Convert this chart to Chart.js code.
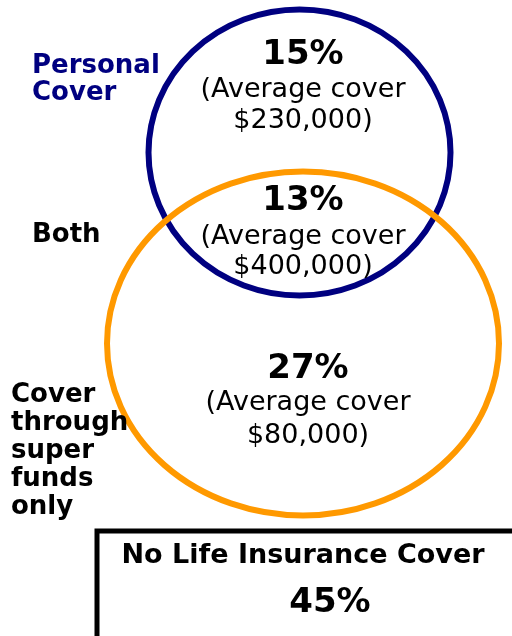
<!DOCTYPE html>
<html>
<head>
<meta charset="utf-8">
<script src="https://cdn.jsdelivr.net/npm/chart.js@4/dist/chart.umd.min.js"></script>
<style>
  html, body { margin: 0; padding: 0; background: #fff; }
  #wrap { width: 512px; height: 636px; }
</style>
</head>
<body>
<div id="wrap"><canvas id="venn" width="512" height="636"></canvas></div>
<script>
// === Data ===
const regions = ["Personal Cover", "Both", "Cover through super funds only"];
const shares = [15, 13, 27];
const avgCover = [230000, 400000, 80000];
const outsideLabel = "No Life Insurance Cover";
const outsideShare = 45;

// === Layout (in canvas units, mapped through the hidden scales) ===
const layout = {
  ellipses: [
    { cx: 299.5, cy: 152.5, rx: 151, ry: 143, color: "#000080" }, // personal
    { cx: 303, cy: 343.5, rx: 196, ry: 172, color: "#FF9900" }    // super funds, drawn on top
  ],
  values: [
    { x: 303, y: 64, lines: [97, 128] },
    { x: 303, y: 210, lines: [244, 274] },
    { x: 308, y: 378, lines: [410, 443] }
  ],
  names: [
    { x: 32, y: 73, step: 27, color: "#000080", lines: ["Personal", "Cover"] },
    { x: 32, y: 242, step: 28, color: "#000", lines: ["Both"] },
    { x: 11, y: 402, step: 28, color: "#000", lines: ["Cover", "through", "super", "funds", "only"] }
  ],
  box: { x: 97, y: 531, title: { x: 303, y: 563 }, value: { x: 330, y: 612 } }
};

const FONT = "'DejaVu Sans', Verdana, sans-serif";

function money(v) {
  return "$" + v.toLocaleString("en-US") + ")";
}

const vennPlugin = {
  id: "venn",
  afterDraw(chart) {
    const ctx = chart.ctx;
    const xs = chart.scales.x, ys = chart.scales.y;
    const px = v => xs.getPixelForValue(v);
    const py = v => ys.getPixelForValue(v);
    const sx = v => Math.abs(xs.getPixelForValue(v) - xs.getPixelForValue(0));
    const sy = v => Math.abs(ys.getPixelForValue(v) - ys.getPixelForValue(0));

    ctx.save();

    // circles
    layout.ellipses.forEach(e => {
      ctx.beginPath();
      ctx.ellipse(px(e.cx), py(e.cy), sx(e.rx), sy(e.ry), 0, 0, Math.PI * 2);
      ctx.lineWidth = 6;
      ctx.strokeStyle = e.color;
      ctx.stroke();
    });

    // no-cover box running off the page
    ctx.lineWidth = 5;
    ctx.strokeStyle = "#000";
    ctx.strokeRect(px(layout.box.x), py(layout.box.y), 600, 200);

    // region values
    ctx.fillStyle = "#000";
    ctx.textAlign = "center";
    ctx.textBaseline = "alphabetic";
    shares.forEach((s, i) => {
      const p = layout.values[i];
      ctx.font = "bold 34px " + FONT;
      ctx.fillText(s + "%", px(p.x), py(p.y));
      ctx.font = "27px " + FONT;
      ctx.fillText("(Average cover", px(p.x), py(p.lines[0]));
      ctx.fillText(money(avgCover[i]), px(p.x), py(p.lines[1]));
    });

    // region names on the left
    ctx.textAlign = "left";
    ctx.font = "bold 26px " + FONT;
    layout.names.forEach(n => {
      ctx.fillStyle = n.color;
      n.lines.forEach((t, k) => ctx.fillText(t, px(n.x), py(n.y + k * n.step)));
    });

    // outside box text
    ctx.fillStyle = "#000";
    ctx.textAlign = "center";
    ctx.font = "bold 27px " + FONT;
    ctx.fillText(outsideLabel, px(layout.box.title.x), py(layout.box.title.y));
    ctx.font = "bold 34px " + FONT;
    ctx.fillText(outsideShare + "%", px(layout.box.value.x), py(layout.box.value.y));

    ctx.restore();
  }
};

new Chart(document.getElementById("venn"), {
  type: "scatter",
  data: { datasets: [{ label: regions.join(" / "), data: [] }] },
  options: {
    responsive: false,
    animation: false,
    layout: { padding: 0 },
    plugins: { legend: { display: false }, tooltip: { enabled: false } },
    scales: {
      x: { type: "linear", min: 0, max: 512, display: false },
      y: { type: "linear", min: 0, max: 636, reverse: true, display: false }
    }
  },
  plugins: [vennPlugin]
});
</script>
</body>
</html>
